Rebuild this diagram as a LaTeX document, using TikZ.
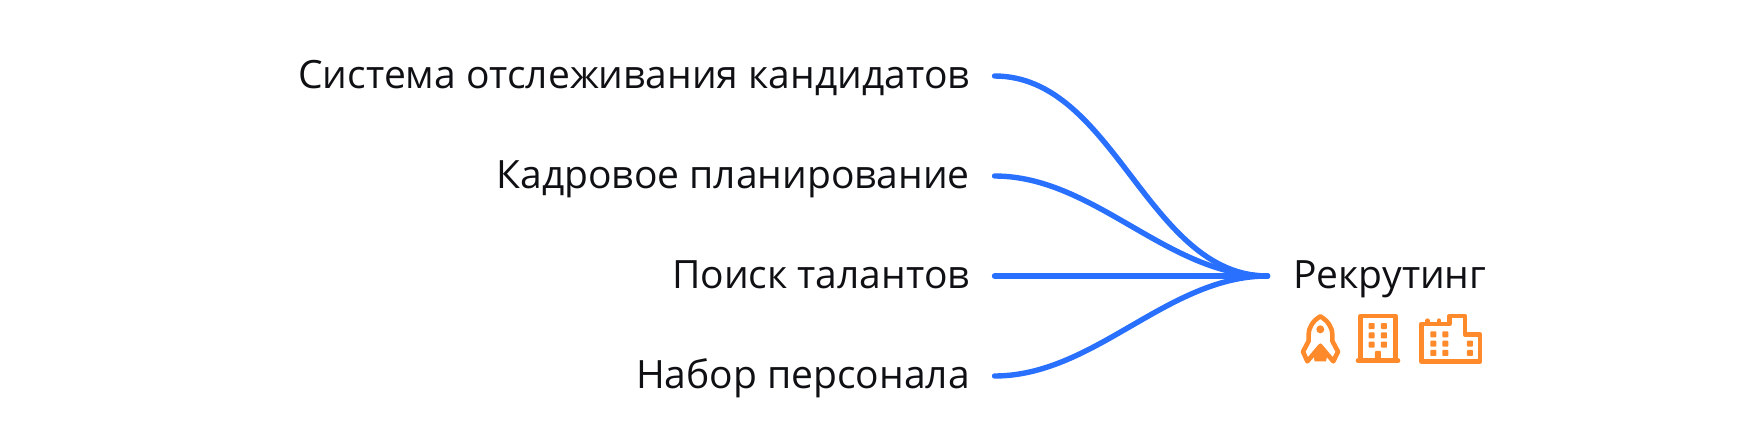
\documentclass[tikz,border=0pt]{standalone}
\usepackage{fontspec}
\setmainfont{Open Sans}
\definecolor{linkblue}{HTML}{2970FF}
\definecolor{iconorange}{HTML}{FF8A2B}
\definecolor{inkdark}{HTML}{0E1013}
\tikzset{
  lab/.style={font=\fontsize{39}{46}\selectfont, text=inkdark, inner ysep=0pt, text height=25pt, text depth=0pt},
  srclab/.style={lab, anchor=east, inner xsep=24.5pt},
  dstlab/.style={lab, anchor=west, inner xsep=25.5pt},
  flow/.style={draw=linkblue, line width=5.4pt, line cap=round},
  iconline/.style={draw=iconorange, line width=4.6pt, line join=round, line cap=round, fill=none},
  iconfill/.style={fill=iconorange, draw=none, rounded corners=0.8pt},
}
\begin{document}
\begin{tikzpicture}[x=1pt,y=-1pt]
\useasboundingbox (0,0) rectangle (1750,447);
\node[srclab] (a) at (994.5,76) {Система отслеживания кандидатов};
\node[srclab] (b) at (994.5,176) {Кадровое планирование};
\node[srclab] (c) at (994.5,276) {Поиск талантов};
\node[srclab] (d) at (994.5,376) {Набор персонала};
\node[dstlab] (r) at (1267.5,276) {Рекрутинг};
\draw[flow] (a.east) .. controls +(120,0) and +(-120,0) .. (r.west);
\draw[flow] (b.east) .. controls +(100,0) and +(-100,0) .. (r.west);
\draw[flow] (c.east) -- (r.west);
\draw[flow] (d.east) .. controls +(100,0) and +(-100,0) .. (r.west);
% icons, in 3x crop coordinates
\begin{scope}[shift={(1150,290)},x=0.3333pt,y=-0.3333pt]
  % rocket
  \draw[iconline] (511,79) .. controls (490,92) and (476,110) .. (476,135) -- (476,153) -- (459,185) -- (472,214) -- (511,168) -- (550,214) -- (564,185) -- (547,153) -- (547,135) .. controls (547,110) and (532,92) .. (511,79) -- cycle;
  \fill[iconorange] (511,118) circle (12);
  \fill[iconorange] (511,160) -- (534,186) -- (528,214) -- (494,214) -- (488,186) -- cycle;
  % building
  \draw[iconline] (632,212) -- (632,78) -- (736,78) -- (736,212);
  \draw[iconline] (624,212) -- (744,212);
  \foreach \wx in {665,702}
    \foreach \wy in {108,136,164}
      \fill[iconfill] (\wx-9,\wy-9) rectangle (\wx+9,\wy+9);
  \fill[iconfill] (675,183) rectangle (693,212);
  % factory
  \draw[iconline] (814,214) -- (814,102) -- (898,102) -- (898,78) -- (945,78) -- (945,134) -- (990,134) -- (990,214) -- cycle;
  \draw[iconline] (833,92) -- (833,100);
  \draw[iconline] (867,92) -- (867,100);
  \foreach \wx in {850,886}
    \foreach \wy in {133,161,189}
      \fill[iconfill] (\wx-9,\wy-9) rectangle (\wx+9,\wy+9);
  \foreach \wy in {161,189}
    \fill[iconfill] (960-9,\wy-9) rectangle (960+9,\wy+9);
\end{scope}
\end{tikzpicture}
\end{document}
